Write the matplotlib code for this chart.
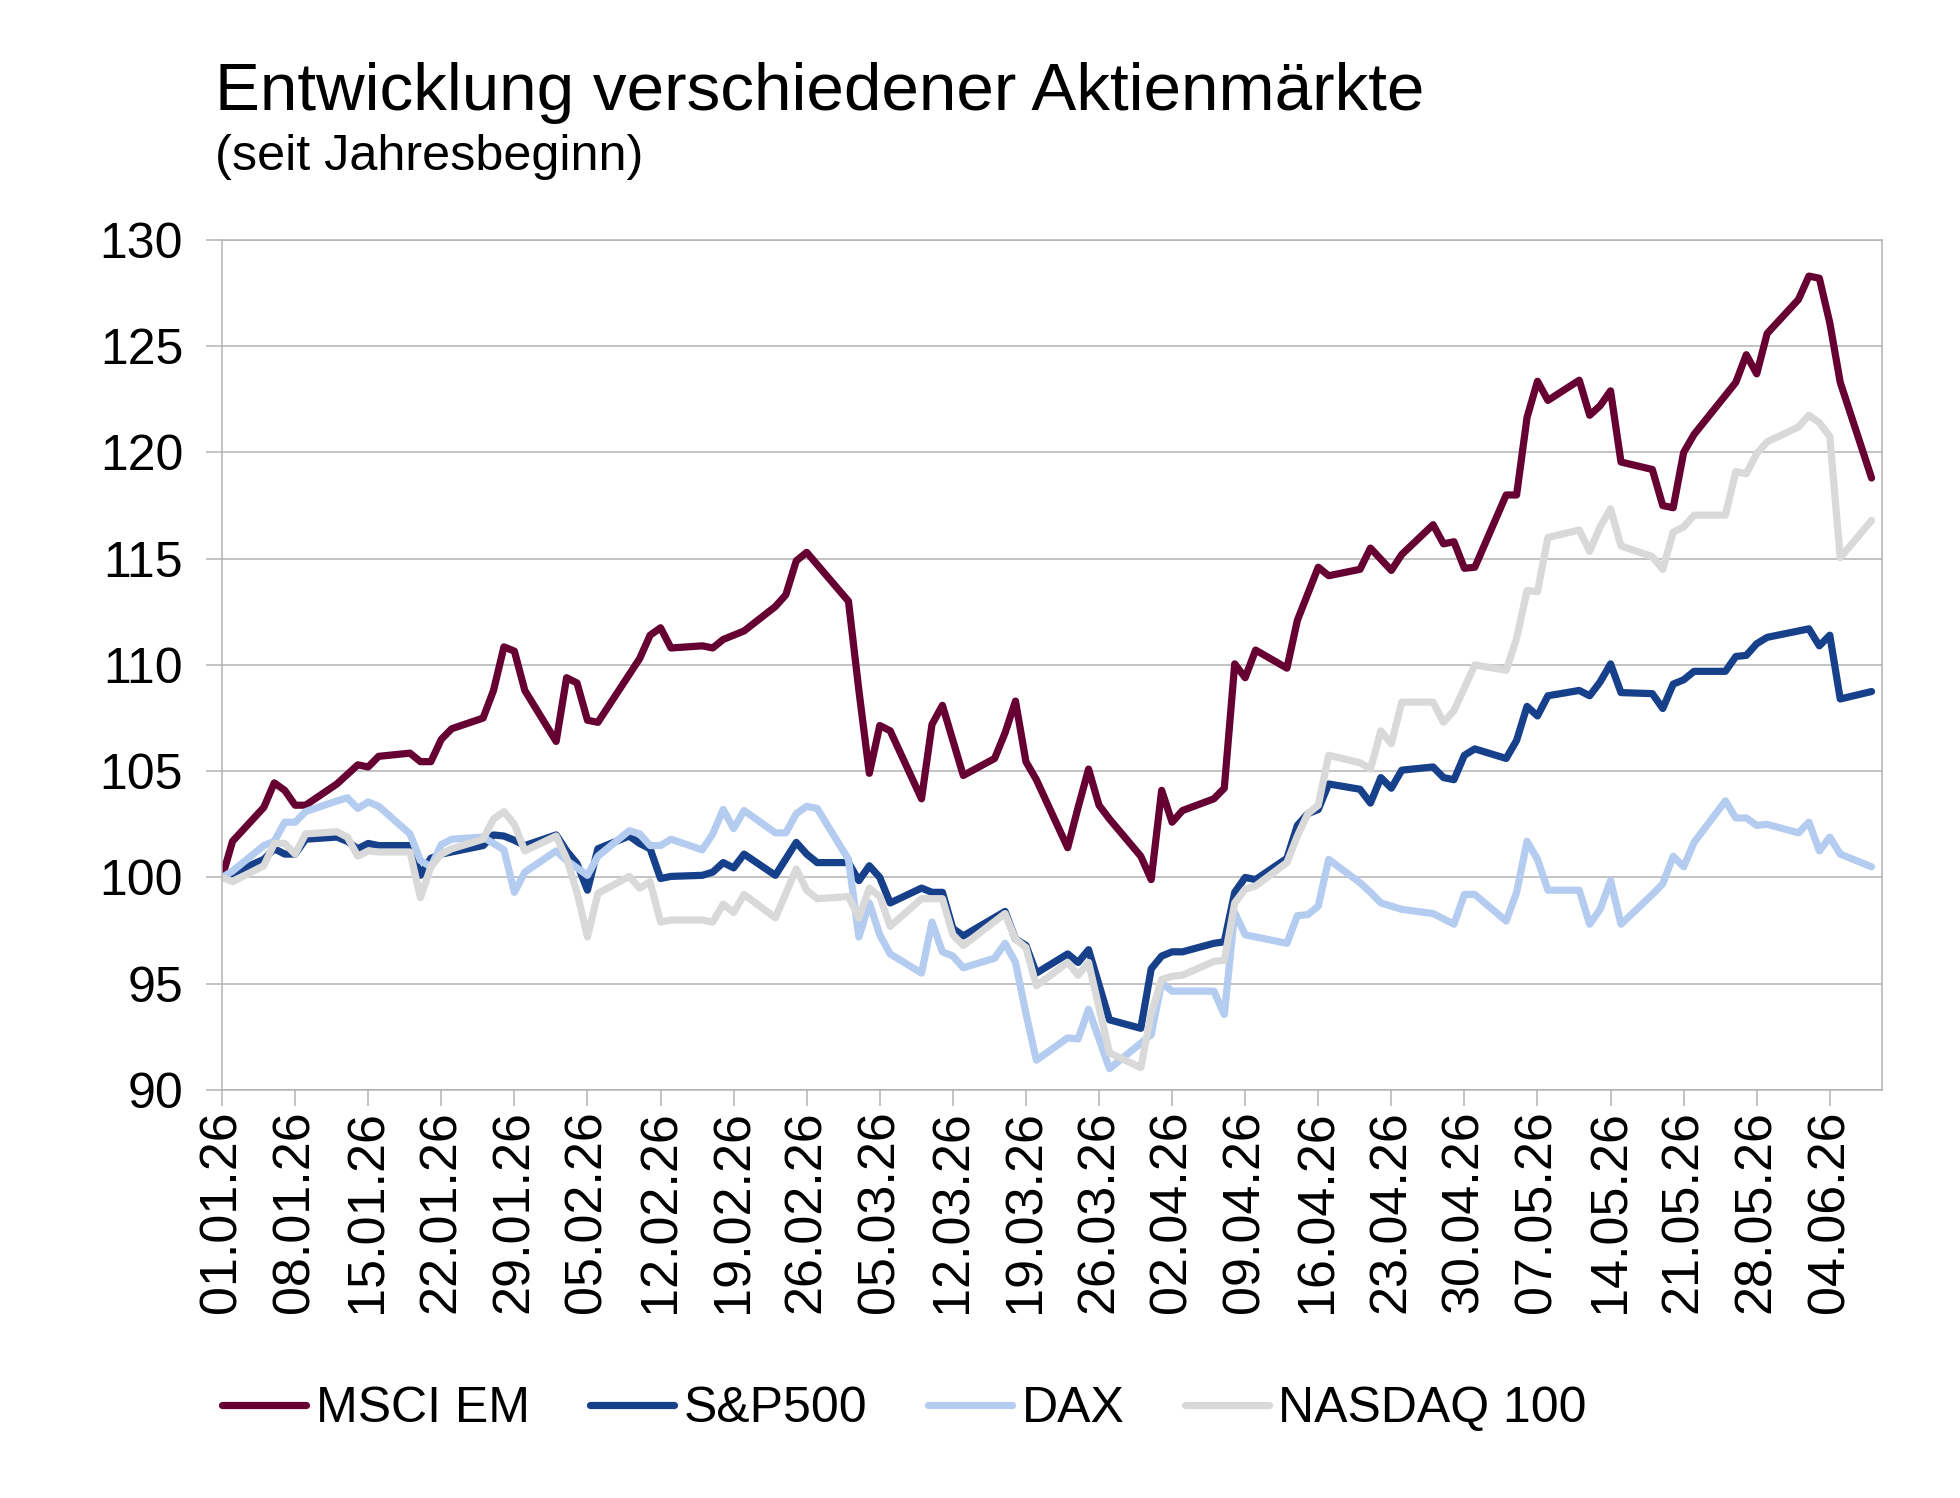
from datetime import date, timedelta

import matplotlib
matplotlib.use("Agg")
from matplotlib import pyplot as plt
import matplotlib.dates as mdates


# data: day offsets since 01.01.26 (trading days) and index values (start = 100)

msci_tage = [0, 1, 4, 5, 6, 7, 8, 11, 13, 14, 15, 18, 19, 20, 21, 22, 25, 26, 27, 28, 29,
             32, 33, 34, 35, 36, 40, 41, 42, 43, 46, 47, 48, 49, 50, 53, 54, 55, 56, 60,
             61, 62, 63, 64, 67, 68, 69, 71, 74, 75, 76, 77, 78, 81, 82, 83, 84, 85, 88,
             89, 90, 91, 92, 95, 96, 97, 98, 99, 102, 103, 105, 106, 109, 110, 112, 113,
             116, 117, 118, 119, 120, 123, 124, 125, 126, 127, 130, 131, 132, 133, 134,
             137, 138, 139, 140, 141, 145, 146, 147, 148, 151, 152, 153, 154, 155, 158]
msci_em = [100.0, 101.7, 103.3, 104.45, 104.1, 103.4, 103.4, 104.4, 105.3, 105.2, 105.7,
           105.85, 105.45, 105.45, 106.5, 107.0, 107.5, 108.8, 110.85, 110.65, 108.8,
           106.4, 109.4, 109.15, 107.4, 107.3, 110.3, 111.4, 111.75, 110.8, 110.9, 110.8,
           111.2, 111.4, 111.6, 112.75, 113.3, 114.9, 115.3, 113.0, 108.8, 104.9, 107.15,
           106.9, 103.7, 107.2, 108.1, 104.8, 105.6, 106.8, 108.3, 105.45, 104.6, 101.4,
           103.3, 105.1, 103.4, 102.75, 101.0, 99.9, 104.1, 102.6, 103.15, 103.7, 104.2,
           110.05, 109.4, 110.7, 109.85, 112.1, 114.6, 114.2, 114.5, 115.5, 114.45, 115.2,
           116.6, 115.7, 115.8, 114.55, 114.6, 118.0, 118.0, 121.65, 123.35, 122.45, 123.4,
           121.75, 122.2, 122.9, 119.55, 119.2, 117.5, 117.4, 120.0, 120.85, 123.3, 124.6,
           123.7, 125.6, 127.2, 128.3, 128.2, 126.1, 123.3, 118.8]

sp_tage = [0, 1, 4, 5, 6, 7, 8, 11, 12, 13, 14, 15, 18, 19, 20, 21, 25, 26, 27, 28, 29,
           32, 33, 34, 35, 36, 39, 40, 41, 42, 43, 46, 47, 48, 49, 50, 53, 55, 56, 57, 60,
           61, 62, 63, 64, 67, 68, 69, 70, 71, 75, 76, 77, 78, 81, 82, 83, 85, 88, 89, 90,
           91, 92, 95, 96, 97, 98, 99, 102, 103, 104, 105, 106, 109, 110, 111, 112, 113,
           116, 117, 118, 119, 120, 123, 124, 125, 126, 127, 130, 131, 132, 133, 134, 137,
           138, 139, 140, 141, 144, 145, 146, 147, 148, 151, 152, 153, 154, 155, 158]
sp500 = [100.0, 100.2, 100.85, 101.35, 101.1, 101.1, 101.8, 101.9, 101.7, 101.35, 101.6,
         101.5, 101.5, 100.1, 100.9, 101.1, 101.5, 102.0, 101.95, 101.75, 101.5, 102.0,
         101.25, 100.65, 99.4, 101.35, 101.95, 101.6, 101.35, 99.95, 100.05, 100.1, 100.25,
         100.7, 100.45, 101.1, 100.1, 101.65, 101.1, 100.7, 100.7, 99.85, 100.55, 100.0,
         98.8, 99.5, 99.3, 99.3, 97.6, 97.25, 98.4, 97.1, 96.8, 95.5, 96.4, 96.0, 96.6,
         93.3, 92.9, 95.7, 96.3, 96.5, 96.5, 96.9, 96.97, 99.3, 100.0, 99.9, 100.9, 102.45,
         103.0, 103.2, 104.4, 104.15, 103.5, 104.7, 104.2, 105.05, 105.2, 104.7, 104.6,
         105.75, 106.05, 105.6, 106.45, 108.05, 107.6, 108.55, 108.8, 108.55, 109.2, 110.05,
         108.7, 108.65, 107.95, 109.1, 109.3, 109.7, 109.7, 110.4, 110.45, 111.0, 111.3,
         111.6, 111.7, 110.9, 111.4, 108.4, 108.75]

dax_tage = [0, 1, 4, 5, 6, 7, 8, 11, 12, 13, 14, 15, 18, 19, 20, 21, 22, 25, 27, 28, 29,
            32, 33, 35, 36, 39, 40, 41, 42, 43, 46, 47, 48, 49, 50, 53, 54, 55, 56, 57, 60,
            61, 62, 63, 64, 67, 68, 69, 70, 71, 74, 75, 76, 77, 78, 81, 82, 83, 85, 88, 89,
            90, 91, 95, 96, 97, 98, 102, 103, 104, 105, 106, 109, 110, 111, 113, 116, 118,
            119, 120, 123, 124, 125, 126, 127, 130, 131, 132, 133, 134, 137, 138, 139, 140,
            141, 144, 145, 146, 147, 148, 151, 152, 153, 154, 155, 158]
dax = [100.0, 100.3, 101.5, 101.7, 102.6, 102.6, 103.1, 103.6, 103.75, 103.25, 103.55,
       103.35, 102.05, 100.8, 100.5, 101.55, 101.8, 101.9, 101.3, 99.3, 100.25, 101.25,
       100.8, 100.1, 101.0, 102.2, 102.05, 101.5, 101.5, 101.8, 101.3, 102.05, 103.2, 102.3,
       103.15, 102.1, 102.1, 103.0, 103.35, 103.25, 100.85, 97.2, 98.8, 97.3, 96.4, 95.5,
       97.9, 96.5, 96.3, 95.75, 96.2, 96.9, 96.0, 93.6, 91.4, 92.45, 92.4, 93.8, 91.0, 92.2,
       92.6, 95.05, 94.65, 94.65, 93.55, 98.35, 97.3, 96.9, 98.2, 98.25, 98.65, 100.85,
       99.75, 99.3, 98.8, 98.5, 98.3, 97.8, 99.2, 99.2, 97.95, 99.3, 101.7, 100.85, 99.4,
       99.4, 97.8, 98.5, 99.85, 97.8, 99.2, 99.7, 101.0, 100.5, 101.65, 103.6, 102.8, 102.8,
       102.45, 102.5, 102.1, 102.6, 101.25, 101.9, 101.1, 100.5]

nasdaq_tage = [0, 1, 4, 5, 6, 7, 8, 11, 12, 13, 14, 15, 18, 19, 20, 21, 22, 25, 26, 27, 28,
               29, 32, 33, 34, 35, 36, 39, 40, 41, 42, 43, 46, 47, 48, 49, 50, 53, 55, 56,
               57, 60, 61, 62, 63, 64, 67, 69, 70, 71, 75, 76, 77, 78, 81, 82, 83, 85, 88,
               89, 90, 91, 92, 95, 96, 97, 98, 99, 102, 103, 104, 105, 106, 109, 110, 111,
               112, 113, 116, 117, 118, 120, 123, 124, 125, 126, 127, 130, 131, 132, 133,
               134, 137, 138, 139, 140, 141, 144, 145, 146, 147, 148, 151, 152, 153, 154,
               155, 158]
nasdaq100 = [100.0, 99.8, 100.55, 101.6, 101.6, 101.1, 102.05, 102.15, 101.9, 101.0, 101.25,
             101.2, 101.2, 99.05, 100.5, 101.1, 101.35, 101.8, 102.75, 103.1, 102.5, 101.25,
             101.95, 100.9, 99.3, 97.2, 99.25, 100.05, 99.5, 99.8, 97.9, 98.0, 98.0, 97.9,
             98.75, 98.35, 99.2, 98.1, 100.4, 99.4, 99.0, 99.1, 98.1, 99.5, 99.1, 97.7, 99.0,
             99.0, 97.3, 96.8, 98.3, 97.1, 96.7, 94.9, 96.0, 95.4, 96.0, 91.75, 91.05, 93.6,
             95.2, 95.35, 95.4, 96.05, 96.1, 98.8, 99.45, 99.6, 100.7, 101.95, 103.0, 103.4,
             105.75, 105.4, 105.1, 106.9, 106.3, 108.25, 108.25, 107.3, 107.85, 110.0, 109.75,
             111.25, 113.5, 113.45, 116.0, 116.35, 115.35, 116.5, 117.35, 115.6, 115.1, 114.5,
             116.25, 116.5, 117.05, 117.05, 119.1, 119.0, 119.95, 120.5, 121.2, 121.75, 121.4,
             120.75, 115.05, 116.8]

namen = ["MSCI EM", "S&P500", "DAX", "NASDAQ 100"]
farben = ["#660033", "#17408B", "#B4CCF0", "#D9D9D9"]

start = date(2026, 1, 1)


def to_dates(tage):
    return [start + timedelta(days=t) for t in tage]


plt.rcParams['font.family'] = ['Liberation Sans', 'DejaVu Sans']

fig = plt.figure(figsize=(19.6, 14.98), dpi=100)
ax = fig.add_axes([0.1133, 0.2724, 0.8469, 0.5674])

serien = [(msci_tage, msci_em), (sp_tage, sp500), (dax_tage, dax), (nasdaq_tage, nasdaq100)]
for (tage, werte), name, farbe in zip(serien, namen, farben):
    ax.plot(to_dates(tage), werte, color=farbe, lw=5.2, label=name,
            solid_joinstyle='round', solid_capstyle='round')

# axes
ax.set_ylim(90, 130)
ax.set_yticks(range(90, 131, 5))
ax.set_xlim(start, start + timedelta(days=159))
ax.set_xticks(to_dates(range(0, 155, 7)))
ax.xaxis.set_major_formatter(mdates.DateFormatter('%d.%m.%y'))

grau = '#B3B3B3'
ax.grid(axis='y', color=grau, lw=1.1)
ax.set_axisbelow(True)
for s in ax.spines.values():
    s.set_color(grau)
    s.set_linewidth(1.1)
ax.tick_params(axis='both', colors=grau, length=11.5, width=1.1, labelcolor='black')
ax.tick_params(axis='y', pad=16.5, labelsize=36)
ax.tick_params(axis='x', pad=3, labelrotation=90, labelsize=37.5)

fig.text(215 / 1960, 1 - 110 / 1498, 'Entwicklung verschiedener Aktienmärkte',
         fontsize=48.5, va='baseline', ha='left')
fig.text(215 / 1960, 1 - 170 / 1498, '(seit Jahresbeginn)',
         fontsize=36.3, va='baseline', ha='left')

fig.legend(loc='center left', bbox_to_anchor=(222 / 1960, 1 - 1409 / 1498), ncol=4,
           frameon=False, fontsize=36, handlelength=1.68, handletextpad=0.2,
           columnspacing=1.2, borderpad=0, borderaxespad=0)

fig.savefig('out.png', dpi=100)
